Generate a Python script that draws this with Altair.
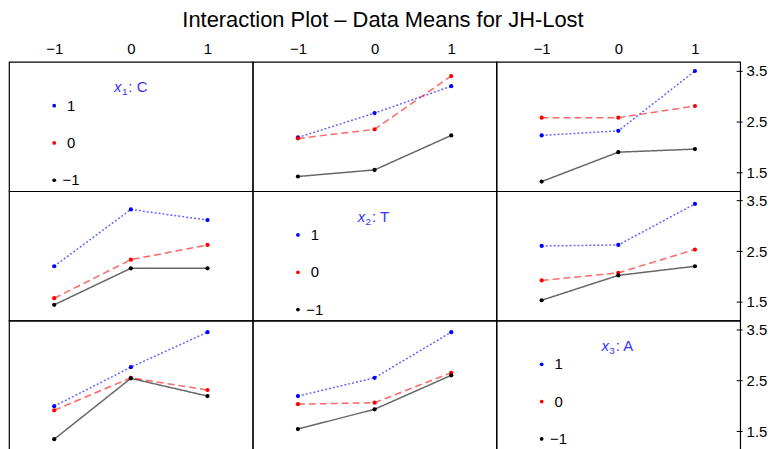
import altair as alt
import pandas as pd

FONT = "Liberation Sans"

# factor levels on the x axis and trace levels
levels = [-1, 0, 1]
traces = ["1", "0", "−1"]
trace_colors = ["#0000ff", "#ff0000", "#000000"]
trace_dashes = [[2, 2], [7, 4], [1, 0]]

# legend names of the three factors
factor_subs = ["1", "2", "3"]
factor_names = ["C", "T", "A"]

# means per panel (row, col); order of lists = traces "1", "0", "−1"
p12_blue = [2.19, 2.67, 3.20]
p12_red = [2.17, 2.35, 3.40]
p12_black = [1.42, 1.55, 2.23]

p13_blue = [2.23, 2.32, 3.50]
p13_red = [2.58, 2.58, 2.81]
p13_black = [1.32, 1.90, 1.96]

p21_blue = [2.20, 3.32, 3.11]
p21_red = [1.57, 2.33, 2.62]
p21_black = [1.44, 2.16, 2.16]

p23_blue = [2.60, 2.62, 3.43]
p23_red = [1.92, 2.07, 2.53]
p23_black = [1.53, 2.02, 2.20]

p31_blue = [1.99, 2.76, 3.45]
p31_red = [1.91, 2.55, 2.31]
p31_black = [1.34, 2.54, 2.19]

p32_blue = [2.19, 2.55, 3.45]
p32_red = [2.03, 2.06, 2.65]
p32_black = [1.54, 1.93, 2.60]

y_ticks = [1.5, 2.5, 3.5]

panel_data = {
    (0, 1): [p12_blue, p12_red, p12_black],
    (0, 2): [p13_blue, p13_red, p13_black],
    (1, 0): [p21_blue, p21_red, p21_black],
    (1, 2): [p23_blue, p23_red, p23_black],
    (2, 0): [p31_blue, p31_red, p31_black],
    (2, 1): [p32_blue, p32_red, p32_black],
}

X_DOMAIN = [-1.59, 1.59]
Y_DOMAIN = [1.13, 3.68]
W, H = 245, 130
TITLE_BLUE = "#3333ff"


def xenc(top):
    if top:
        axis = alt.Axis(orient="top", values=levels, ticks=False, domain=False,
                        grid=False, labelFontSize=15, labelFont=FONT,
                        labelColor="black", labelPadding=5, title=None,
                        format="d")
    else:
        axis = None
    return alt.X("level:Q", scale=alt.Scale(domain=X_DOMAIN, nice=False, zero=False),
                 axis=axis)


def yenc(right):
    if right:
        axis = alt.Axis(orient="right", values=y_ticks, format=".1f", tickSize=6,
                        offset=-4, domain=False, grid=False, labelFontSize=15,
                        labelFont=FONT, labelColor="black", labelPadding=4,
                        tickColor="black", tickWidth=1, title=None)
    else:
        axis = None
    return alt.Y("mean:Q", scale=alt.Scale(domain=Y_DOMAIN, nice=False, zero=False),
                 axis=axis)


color_enc = alt.Color("trace:N", scale=alt.Scale(domain=traces, range=trace_colors),
                      legend=None)
dash_enc = alt.StrokeDash("trace:N", scale=alt.Scale(domain=traces, range=trace_dashes),
                          legend=None)


def data_panel(r, c):
    rows = []
    for t, vals in zip(traces, panel_data[(r, c)]):
        for lv, v in zip(levels, vals):
            rows.append({"level": lv, "mean": v, "trace": t})
    df = pd.DataFrame(rows)
    base = alt.Chart(df)
    lines = base.mark_line(strokeWidth=1.5, opacity=0.6).encode(
        x=xenc(r == 0), y=yenc(c == 2), color=color_enc, strokeDash=dash_enc,
        order=alt.Order("level:Q"))
    pts = base.mark_circle(size=18, opacity=1).encode(
        x=xenc(r == 0), y=yenc(c == 2), color=color_enc)
    return alt.layer(lines, pts).properties(width=W, height=H)


def legend_panel(i):
    ldf = pd.DataFrame({"level": [-1] * 3, "trace": traces})
    yl = alt.Y("trace:N", scale=alt.Scale(type="point", domain=traces,
                                         range=[44, 119], padding=0), axis=None)
    base = alt.Chart(ldf)
    dots = base.mark_circle(size=14, opacity=1).encode(
        x=xenc(i == 0), y=yl, color=color_enc)
    labels = base.mark_text(dx=17, align="center", baseline="middle", fontSize=15,
                            font=FONT, color="black").encode(
        x=xenc(i == 0), y=yl, text="trace:N")
    tdf = pd.DataFrame({"sub": [factor_subs[i]], "name": [factor_names[i]]})
    tb = alt.Chart(tdf)
    t_x = tb.mark_text(align="right", baseline="middle", fontSize=15, font=FONT,
                       fontStyle="italic", color=TITLE_BLUE).encode(
        x=alt.value(113), y=alt.value(25.5), text=alt.value("x"))
    t_sub = tb.mark_text(align="left", baseline="middle", fontSize=10, font=FONT,
                         color=TITLE_BLUE).encode(
        x=alt.value(113.5), y=alt.value(30.5), text="sub:N")
    t_name = tb.mark_text(align="left", baseline="middle", fontSize=15, font=FONT,
                          color=TITLE_BLUE).encode(
        x=alt.value(120), y=alt.value(25.5), text=alt.Text("label:N")).transform_calculate(
        label="':' + ' ' + datum.name")
    layers = [dots, labels, t_x, t_sub, t_name]
    if i == 2:
        ydf = pd.DataFrame({"mean": y_ticks})
        ghost = alt.Chart(ydf).mark_point(opacity=0).encode(y=yenc(True))
        layers = [ghost] + layers
    return alt.layer(*layers).resolve_scale(y="independent").properties(width=W, height=H)


panels = []
for r in range(3):
    for c in range(3):
        if r == c:
            panels.append(legend_panel(r))
        else:
            panels.append(data_panel(r, c))

chart = alt.concat(*panels, columns=3, spacing=0, bounds="flush").properties(
    title=alt.Title("Interaction Plot – Data Means for JH-Lost", fontSize=22, font=FONT,
                    fontWeight="normal", anchor="middle", color="black", offset=9,
                    dx=-5),
    padding={"left": 0, "top": 0, "right": 2, "bottom": 0},
    background="white",
).configure_view(stroke="black", strokeWidth=1.2)

chart.save("out.html", embed_options={"renderer": "svg", "actions": False})
